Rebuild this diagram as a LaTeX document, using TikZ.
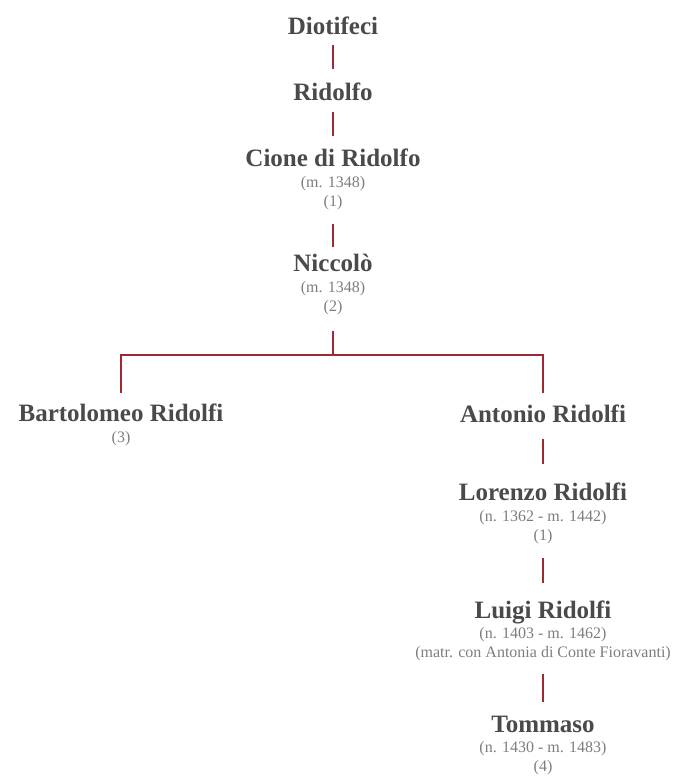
\documentclass[tikz,border=0pt]{standalone}
\usepackage{fontspec}
\setmainfont{Liberation Serif}
\usepackage{tikz}
\usetikzlibrary{positioning}
\definecolor{ridred}{RGB}{160,40,52}
\definecolor{ridname}{RGB}{74,74,74}
\definecolor{ridnote}{RGB}{125,125,125}
\newcommand{\pname}[1]{{\fontsize{25}{30}\selectfont\bfseries\color{ridname}#1}}

\begin{document}
\begin{tikzpicture}[x=1pt, y=-1pt,
  person/.style={anchor=north, inner sep=0pt, align=center, text=ridnote,
    font=\fontsize{16}{19}\selectfont},
  link/.style={ridred, line width=1.1pt}]
\useasboundingbox (0,0) rectangle (678,779);
% main line
\node[person] (dio) at (333,17) {\pname{Diotifeci}};
\node[person] (rid) at (333,83) {\pname{Ridolfo}};
\node[person] (cione) at (333,149) {\pname{Cione di Ridolfo}\\[2pt] (m. 1348)\\ (1)};
\node[person] (nic) at (333,254) {\pname{Niccolò}\\[2pt] (m. 1348)\\ (2)};
% the two sons
\node[person] (bart) at (121,404) {\pname{Bartolomeo Ridolfi}\\[2pt] (3)};
\node[person] (anton) at (543,405) {\pname{Antonio Ridolfi}};
\node[person] (lor) at (543,483) {\pname{Lorenzo Ridolfi}\\[2pt] (n. 1362 - m. 1442)\\ (1)};
\node[person] (luigi) at (543,601) {\pname{Luigi Ridolfi}\\[1pt] (n. 1403 - m. 1462)\\ (matr. con Antonia di Conte Fioravanti)};
\node[person] (tom) at (543,716) {\pname{Tommaso}\\[1pt] (n. 1430 - m. 1483)\\ (4)};
\coordinate (fork) at (333,355);

\draw[link, shorten <=10pt, shorten >=14pt] (dio) -- (rid);
\draw[link, shorten <=11pt, shorten >=13pt] (rid) -- (cione);
\draw[link, shorten <=13.5pt, shorten >=7pt] (cione) -- (nic);
\draw[link, shorten <=15.5pt] (nic) -- (fork);
\draw[link, shorten >=11pt] (fork) -| (bart);
\draw[link, shorten >=12pt] (fork) -| (anton);
\draw[link, shorten <=16pt, shorten >=19pt] (anton) -- (lor);
\draw[link, shorten <=13.5pt, shorten >=18pt] (lor) -- (luigi);
\draw[link, shorten <=12.5pt, shorten >=14pt] (luigi) -- (tom);
\end{tikzpicture}
\end{document}
